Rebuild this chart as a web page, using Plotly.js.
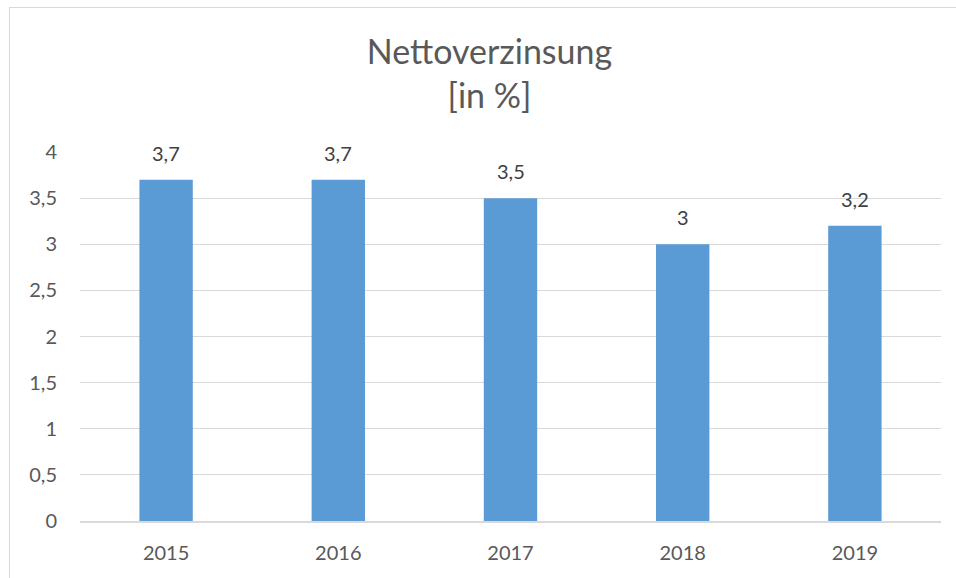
<!DOCTYPE html>
<html><head><meta charset="utf-8">
<script src="https://cdn.plot.ly/plotly-3.0.1.min.js"></script>
<style>
html,body{margin:0;padding:0;background:#fff;}
#wrap{position:relative;width:956px;height:578px;}
#chart{width:956px;height:578px;}
#frame{position:absolute;left:9px;top:7px;width:960px;height:600px;border:1px solid #d9d9d9;pointer-events:none;}
</style></head>
<body>
<div id="wrap"><div id="chart"></div><div id="frame"></div></div>
<script>
const years = ['2015','2016','2017','2018','2019'];
const values = [3.7, 3.7, 3.5, 3.0, 3.2];
const labels = ['3,7','3,7','3,5','3','3,2'];
const font = 'Lato, "Open Sans", sans-serif';
const annotations = years.map((y,i)=>({
  x:i, y:values[i], text:labels[i], showarrow:false, xref:'x', yref:'y',
  yanchor:'bottom', yshift:13, font:{family:font,size:20,color:'#404040'}
}));
Plotly.newPlot('chart', [{
  type:'bar', x:years, y:values,
  marker:{color:'#5b9bd5'}, width:0.31, hoverinfo:'none'
}], {
  width:956, height:578,
  margin:{l:80,r:15,t:152,b:57},
  separators:',.',
  paper_bgcolor:'#fff', plot_bgcolor:'#fff',
  title:{text:'Nettoverzinsung<br>[in %]', font:{family:font,size:34,color:'#595959'},
         x:0.512, xanchor:'center', y:0.889, yanchor:'middle', yref:'container'},
  xaxis:{type:'category', categoryarray:years, showgrid:false, showline:true, linecolor:'#d9d9d9', linewidth:1.5,
         tickfont:{family:font,size:20,color:'#595959'}, ticks:'', ticklabelstandoff:13},
  yaxis:{range:[0,4], dtick:0.5, tick0:0, showgrid:true, gridcolor:'#d9d9d9', gridwidth:1,
         zeroline:false, showline:false, ticks:'', tickformat:'~r',
         tickfont:{family:font,size:20,color:'#595959'}, ticklabelstandoff:22},
  annotations: annotations,
  showlegend:false
}, {displayModeBar:false, staticPlot:true});
</script>
</body></html>
